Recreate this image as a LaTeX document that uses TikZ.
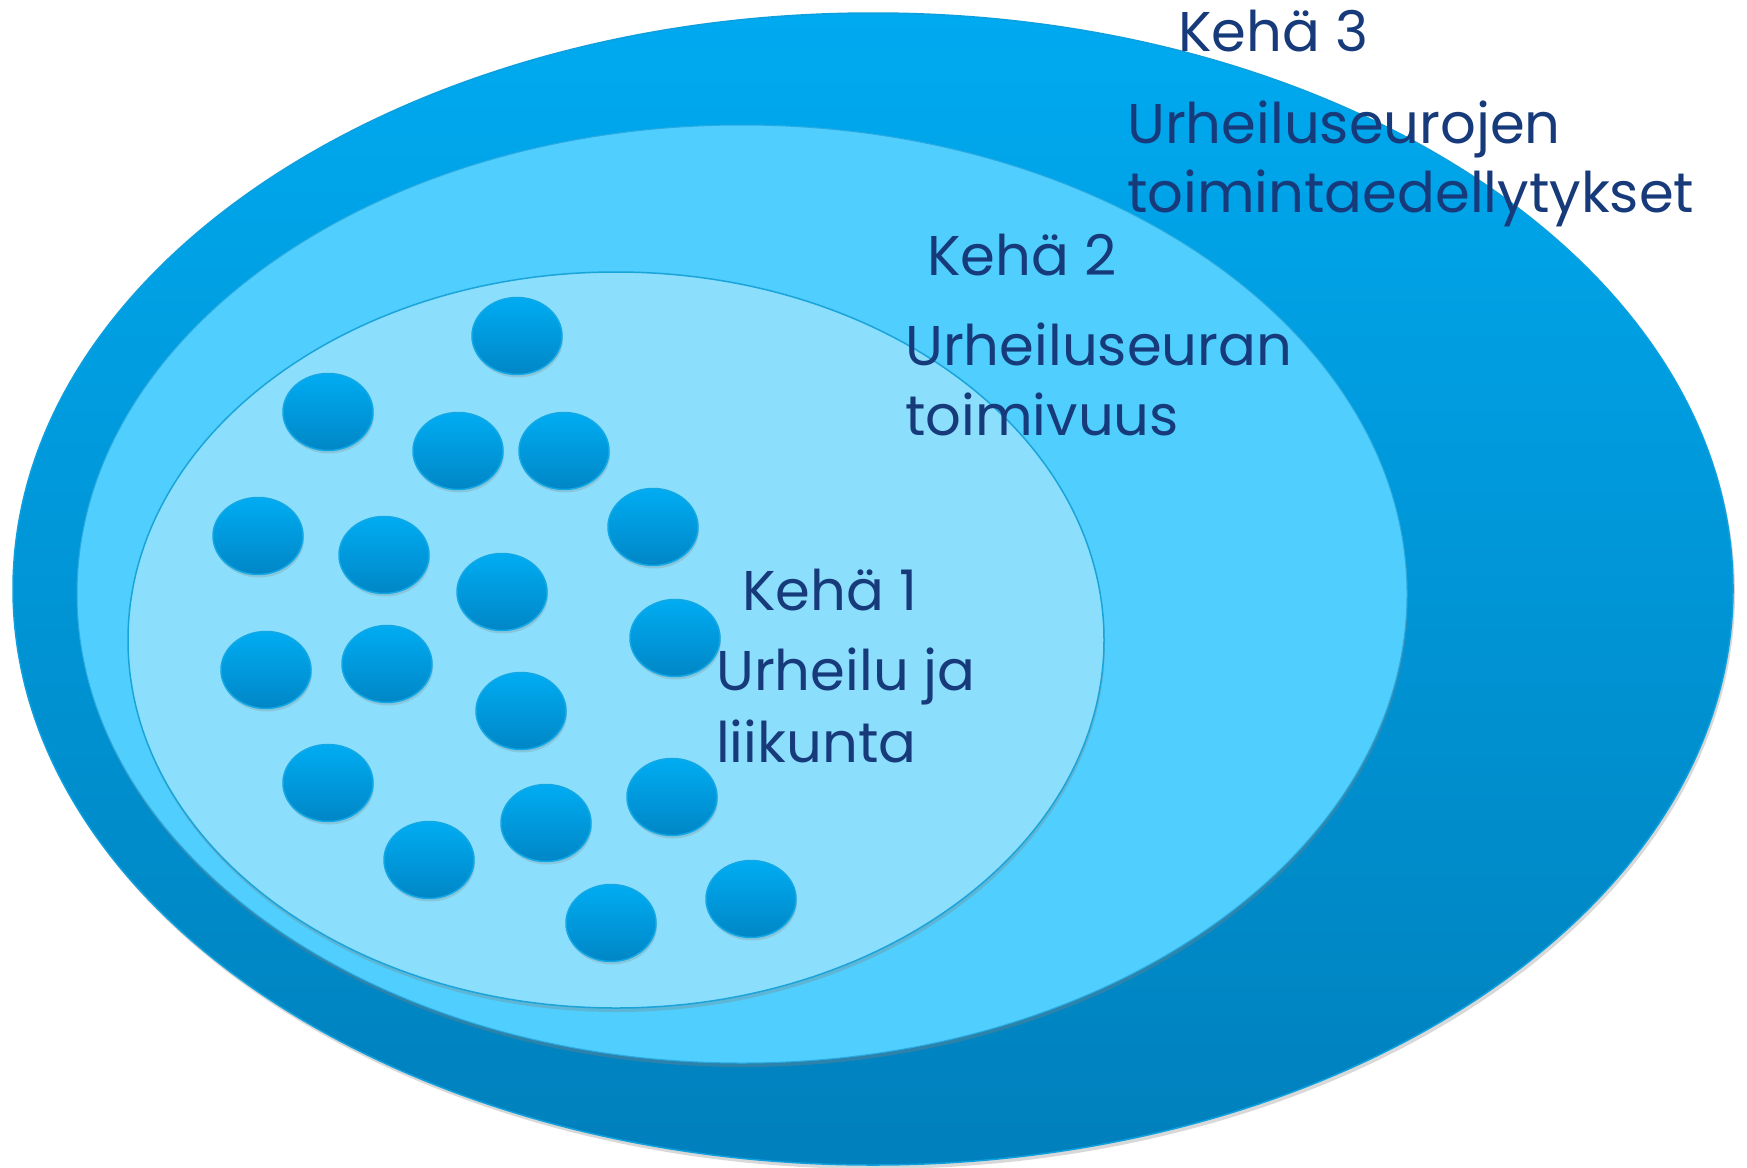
\documentclass[tikz,border=0pt]{standalone}
\usepackage{fontspec}
\setmainfont{Poppins}
\usetikzlibrary{shapes.geometric,shadows}
\definecolor{outerTop}{RGB}{0,170,240}
\definecolor{outerBot}{RGB}{0,128,188}
\definecolor{outerEdge}{RGB}{14,160,222}
\definecolor{midFill}{RGB}{80,206,253}
\definecolor{midEdge}{RGB}{40,170,225}
\definecolor{innFill}{RGB}{139,222,252}
\definecolor{innEdge}{RGB}{26,164,218}
\definecolor{dotTop}{RGB}{0,172,242}
\definecolor{dotBot}{RGB}{0,134,198}
\definecolor{dotEdge}{RGB}{18,168,230}
\definecolor{txt}{RGB}{22,58,122}
\tikzset{
  ring/.style={ellipse, inner sep=0pt},
  dot/.style={ellipse, inner sep=0pt, minimum width=90pt, minimum height=77pt,
    top color=dotTop, bottom color=dotBot, draw=dotEdge, line width=1.5pt,
    drop shadow={opacity=0.25, shadow xshift=1pt, shadow yshift=-3pt}},
  lbl/.style={anchor=base west, inner sep=0pt, text=txt, font=\fontsize{56}{67}\selectfont}
}
\begin{document}
\begin{tikzpicture}[x=1pt,y=-1pt]
\useasboundingbox (0,0) rectangle (1747,1167);
\fill[white] (0,0) rectangle (1747,1167);
% rings
\node[ring, minimum width=1720pt, minimum height=1152pt, top color=outerTop, bottom color=outerBot,
  draw=outerEdge, line width=1.5pt,
  drop shadow={opacity=0.3, shadow xshift=2pt, shadow yshift=-4pt}] (k3) at (873,589) {};
\node[ring, minimum width=1330pt, minimum height=938pt, fill=midFill, draw=midEdge, line width=1pt,
  drop shadow={opacity=0.35, shadow xshift=1pt, shadow yshift=-4pt}] (k2) at (742,594) {};
\node[ring, minimum width=976pt, minimum height=736pt, fill=innFill, draw=innEdge, line width=1.5pt,
  drop shadow={opacity=0.3, shadow xshift=1pt, shadow yshift=-4pt}] (k1) at (616,640) {};
% dots
\node[dot] (d1) at (517,336) {};
\node[dot] (d2) at (328,412) {};
\node[dot] (d3) at (458,451) {};
\node[dot] (d4) at (564,451) {};
\node[dot] (d5) at (653,527) {};
\node[dot] (d6) at (258,536) {};
\node[dot] (d7) at (384,555) {};
\node[dot] (d8) at (502,592) {};
\node[dot] (d9) at (675,638) {};
\node[dot] (d10) at (266,670) {};
\node[dot] (d11) at (387,664) {};
\node[dot] (d12) at (521,711) {};
\node[dot] (d13) at (328,783) {};
\node[dot] (d14) at (672,797) {};
\node[dot] (d15) at (546,823) {};
\node[dot] (d16) at (429,860) {};
\node[dot] (d17) at (751,899) {};
\node[dot] (d18) at (611,923) {};
% labels
\node[lbl] (t3a) at (1178,51) {Kehä 3};
\node[lbl] (t3b) at (1127,143) {Urheiluseurojen};
\node[lbl] (t3c) at (1127,212) {toimintaedellytykset};
\node[lbl] (t2a) at (927,275) {Kehä 2};
\node[lbl] (t2b) at (905,365) {Urheiluseuran};
\node[lbl] (t2c) at (905,435) {toimivuus};
\node[lbl] (t1a) at (742,610) {Kehä 1};
\node[lbl] (t1b) at (716,690) {Urheilu ja};
\node[lbl] (t1c) at (716,762) {liikunta};
\end{tikzpicture}
\end{document}
